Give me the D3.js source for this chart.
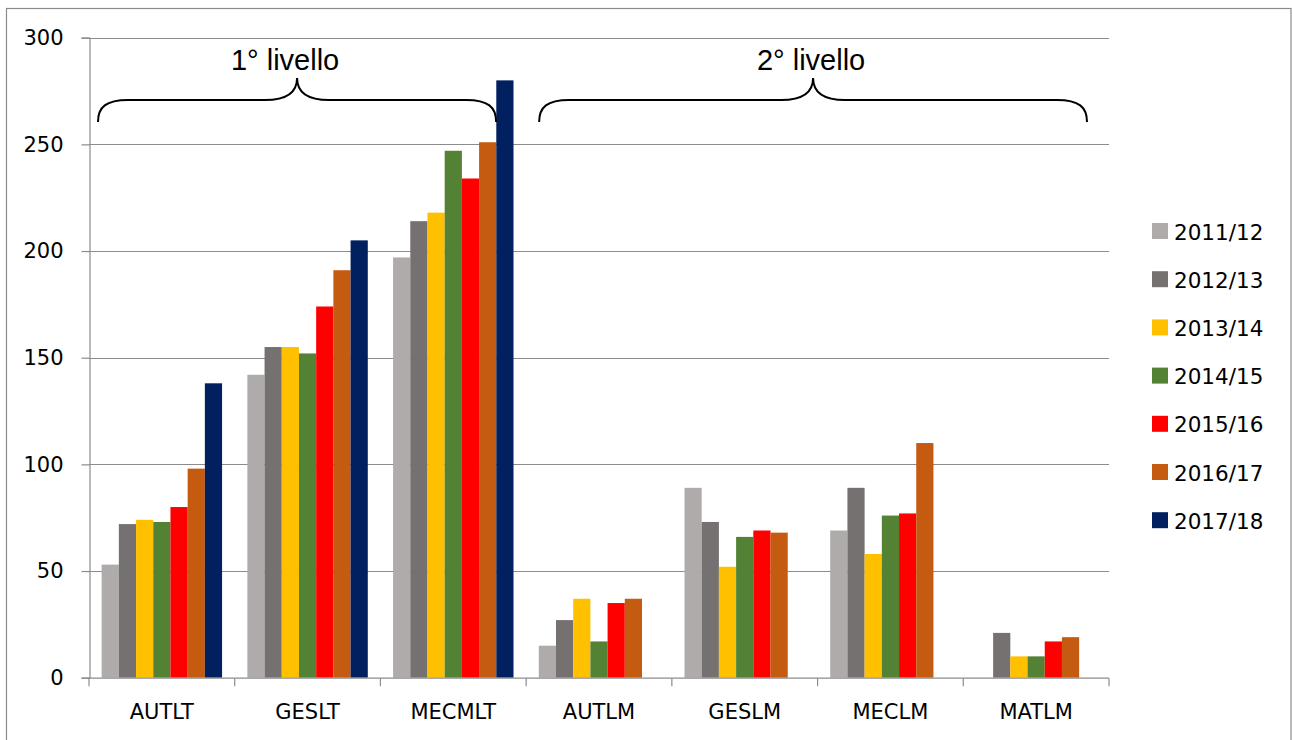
<!DOCTYPE html>
<html>
<head>
<meta charset="utf-8">
<script src="https://cdn.jsdelivr.net/npm/d3@7"></script>
<style>
  html, body { margin: 0; padding: 0; background: #fff; }
  svg { display: block; }
</style>
</head>
<body>
<svg id="chart" width="1292" height="740"></svg>
<script>
// Degree programmes (1st level: LT, 2nd level: LM)
const categories = ["AUTLT", "GESLT", "MECMLT", "AUTLM", "GESLM", "MECLM", "MATLM"];
const years = ["2011/12", "2012/13", "2013/14", "2014/15", "2015/16", "2016/17", "2017/18"];
const colors = ["#AFABAB", "#767171", "#FFC000", "#548235", "#FF0000", "#C55A11", "#002060"];

// Enrolments per academic year, one value per programme
const y2011 = [53, 142, 197, 15, 89, 69, null];
const y2012 = [72, 155, 214, 27, 73, 89, 21];
const y2013 = [74, 155, 218, 37, 52, 58, 10];
const y2014 = [73, 152, 247, 17, 66, 76, 10];
const y2015 = [80, 174, 234, 35, 69, 77, 17];
const y2016 = [98, 191, 251, 37, 68, 110, 19];
const y2017 = [138, 205, 280, null, null, null, null];
const seriesValues = [y2011, y2012, y2013, y2014, y2015, y2016, y2017];

const yTicks = [0, 50, 100, 150, 200, 250, 300];

// Level groupings shown with braces above the bars
const groups = [
  { label: "1° livello", first: "AUTLT", last: "MECMLT" },
  { label: "2° livello", first: "AUTLM", last: "MATLM" }
];

const svg = d3.select("#chart");
const gridColor = "#8C8C8C";

// Outer chart frame
svg.append("rect")
  .attr("x", 6.5).attr("y", 8.5)
  .attr("width", 1284.5).attr("height", 740)
  .attr("fill", "none").attr("stroke", "#8A8A8A").attr("stroke-width", 1.2);

const plot = { left: 89, right: 1109, top: 37.7, bottom: 677.7 };

const x = d3.scaleBand().domain(categories).range([plot.left, plot.right]).padding(0);
const xi = d3.scaleBand().domain(years).range([0, x.bandwidth()])
  .paddingInner(0).paddingOuter(0.735);
const y = d3.scaleLinear().domain([0, 300]).range([plot.bottom, plot.top]);

// Horizontal gridlines
svg.append("g").selectAll("line")
  .data(yTicks.filter(d => d > 0))
  .join("line")
  .attr("x1", plot.left).attr("x2", plot.right)
  .attr("y1", d => Math.round(y(d)) + 0.5).attr("y2", d => Math.round(y(d)) + 0.5)
  .attr("stroke", gridColor).attr("stroke-width", 1.2);

// Bars
const barData = [];
seriesValues.forEach((vals, si) => {
  vals.forEach((v, ci) => {
    if (v != null) barData.push({ cat: categories[ci], year: years[si], value: v, color: colors[si] });
  });
});
svg.append("g").selectAll("rect")
  .data(barData)
  .join("rect")
  .attr("x", d => x(d.cat) + xi(d.year))
  .attr("y", d => y(d.value))
  .attr("width", xi.bandwidth())
  .attr("height", d => y(0) - y(d.value))
  .attr("fill", d => d.color);

// Y axis
const yAxis = d3.axisLeft(y).tickValues(yTicks).tickSize(8).tickPadding(18);
const gy = svg.append("g").attr("transform", `translate(${plot.left + 0.5},0)`).call(yAxis);
gy.select(".domain").attr("stroke", gridColor).attr("stroke-width", 1.2);
gy.selectAll(".tick line").attr("stroke", gridColor).attr("stroke-width", 1.2);
gy.selectAll(".tick text")
  .attr("font-family", "'DejaVu Sans', sans-serif")
  .attr("font-size", 21).attr("fill", "#000");

// X axis: ticks on category boundaries
const gx = svg.append("g").attr("transform", `translate(0,${plot.bottom + 0.5})`);
gx.append("line")
  .attr("x1", plot.left).attr("x2", plot.right)
  .attr("stroke", gridColor).attr("stroke-width", 1.2);
const boundaries = categories.map(c => x(c)).concat([plot.right]);
gx.selectAll("line.tick")
  .data(boundaries)
  .join("line").attr("class", "tick")
  .attr("x1", d => d).attr("x2", d => d)
  .attr("y1", 0).attr("y2", 8)
  .attr("stroke", gridColor).attr("stroke-width", 1.2);
gx.selectAll("text")
  .data(categories)
  .join("text")
  .attr("x", d => x(d) + x.bandwidth() / 2)
  .attr("y", 40.5)
  .attr("text-anchor", "middle")
  .attr("font-family", "'DejaVu Sans', sans-serif")
  .attr("font-size", 21).attr("fill", "#000")
  .text(d => d);

// Braces and level labels
const braceTopY = 78, braceMidY = 100, braceEndY = 122;
const bracePath = (x0, x1) => {
  const tip = (x0 + x1) / 2;
  const p = d3.path();
  p.moveTo(x0, braceEndY);
  p.bezierCurveTo(x0, braceEndY - 15, x0 + 8, braceMidY, x0 + 30, braceMidY);
  p.lineTo(tip - 32, braceMidY);
  p.bezierCurveTo(tip - 12, braceMidY, tip, braceMidY - 6, tip, braceTopY);
  p.bezierCurveTo(tip, braceMidY - 6, tip + 12, braceMidY, tip + 32, braceMidY);
  p.lineTo(x1 - 30, braceMidY);
  p.bezierCurveTo(x1 - 8, braceMidY, x1, braceEndY - 15, x1, braceEndY);
  return p.toString();
};
const braceInset = [[9, 30], [13, 22]];
const labelShift = [-12, -2];
groups.forEach((g, i) => {
  const x0 = x(g.first) + braceInset[i][0];
  const x1 = x(g.last) + x.bandwidth() - braceInset[i][1];
  svg.append("path")
    .attr("d", bracePath(x0, x1))
    .attr("fill", "none").attr("stroke", "#000").attr("stroke-width", 2);
  svg.append("text")
    .attr("x", (x0 + x1) / 2 + labelShift[i])
    .attr("y", 70)
    .attr("text-anchor", "middle")
    .attr("font-family", "'Liberation Sans', Arial, sans-serif")
    .attr("font-size", 29).attr("fill", "#000")
    .text(g.label);
});

// Legend
const legend = svg.append("g").attr("transform", "translate(1152,223)");
const items = legend.selectAll("g")
  .data(years)
  .join("g")
  .attr("transform", (d, i) => `translate(0,${i * 48.2})`);
items.append("rect")
  .attr("width", 16).attr("height", 16)
  .attr("fill", (d, i) => colors[i]);
items.append("text")
  .attr("x", 22).attr("y", 16.5)
  .attr("font-family", "'DejaVu Sans', sans-serif")
  .attr("font-size", 21.5).attr("fill", "#000")
  .text(d => d);
</script>
</body>
</html>
